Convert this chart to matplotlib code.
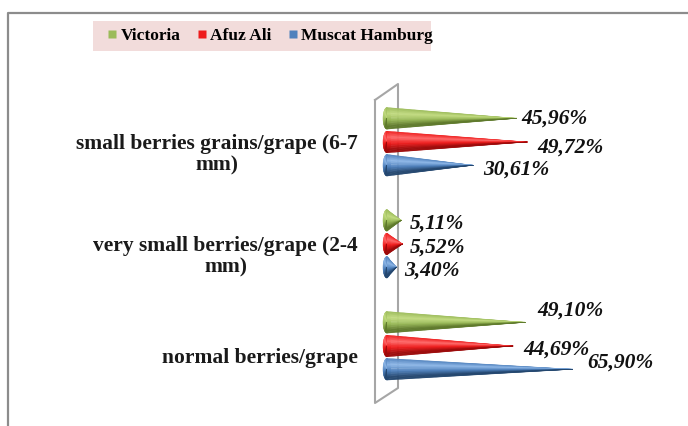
import matplotlib
matplotlib.use("Agg")
import matplotlib.pyplot as plt
import matplotlib.transforms as mtransforms
from matplotlib.patches import Polygon, Ellipse, Rectangle
from matplotlib.lines import Line2D
from matplotlib.colors import LinearSegmentedColormap
import numpy as np

# categories, top to bottom
categories = ["small berries grains/grape (6-7\nmm)",
              "very small berries/grape (2-4\nmm)",
              "normal berries/grape"]
series_names = ["Victoria", "Afuz Ali", "Muscat Hamburg"]
victoria = [45.96, 5.11, 49.10]
afuz_ali = [49.72, 5.52, 44.69]
muscat_hamburg = [30.61, 3.40, 65.90]
values = [victoria, afuz_ali, muscat_hamburg]

# light / mid / dark shades for each series
shades = [("#c3dc82", "#9bbb59", "#5f7a2c"),
          ("#ff6a6a", "#ee1c1c", "#9c0a0a"),
          ("#8fb8e8", "#4f81bd", "#24476f")]

# label nudges in pixels (dx, dy down), per series then category
label_nudge = [[(5, 0), (8, 3), (12, -12)],
               [(10, 6), (7, 4), (10, 4)],
               [(10, 4), (8, 3), (14, -7)]]

W, H = 688, 426
fig = plt.figure(figsize=(W / 100, H / 100), dpi=100)
fig.patch.set_facecolor("white")

px_per_unit = 2.82
ax = fig.add_axes([387 / W, 1 - 410 / H, 301 / W, 340 / H])
ax.set_xlim(0, 301 / px_per_unit)
ax.set_ylim((410 - 142) / 102, (70 - 142) / 102)
ax.set_facecolor("none")
for sp in ax.spines.values():
    sp.set_visible(False)
ax.set_xticks([])

offsets = [-0.232, 0.0, 0.228]
radius = 0.106
base_w = 8 / px_per_unit


def draw_cone(ax, length, yc, cols):
    cmap = LinearSegmentedColormap.from_list("c", [cols[1], cols[0], cols[1], cols[2]])
    n = 30
    ts = np.linspace(0, 1, n + 1)
    ax.add_patch(Ellipse((0, yc), base_w, 2 * radius, facecolor=cols[1],
                         edgecolor="none", clip_on=False, zorder=2))
    for k in range(n):
        t0, t1 = ts[k], ts[k + 1]
        c = cmap(min(1.0, 0.5 * (t0 + t1) * 1.15))
        ya = yc - radius + 2 * radius * t0
        yb = yc - radius + 2 * radius * t1
        ax.add_patch(Polygon([(0, ya), (0, yb), (length, yc)], closed=True,
                             facecolor=c, edgecolor=c, linewidth=0.3, zorder=3))
    # shading on the rounded back end
    for k in range(n):
        t0, t1 = ts[k], ts[k + 1]
        c = cmap(min(1.0, 0.5 * (t0 + t1) * 1.15))
        th = np.linspace(np.pi / 2 + np.pi * t0, np.pi / 2 + np.pi * t1, 4)
        xs = np.concatenate([[0], base_w / 2 * np.cos(th)])
        ys = np.concatenate([[yc], yc - radius * np.sin(th)])
        ax.add_patch(Polygon(np.column_stack([xs, ys]), closed=True, facecolor=c,
                             edgecolor=c, linewidth=0.3, zorder=2.5, clip_on=False))


for s, vals in enumerate(values):
    for i, v in enumerate(vals):
        yc = i + offsets[s]
        draw_cone(ax, v, yc, shades[s])
        dx, dy = label_nudge[s][i]
        ax.annotate(f"{v:.2f}%".replace(".", ","), xy=(v, yc),
                    xytext=(dx * 0.72, -dy * 0.72), textcoords="offset points",
                    ha="left", va="center", fontsize=15.5, fontweight="bold",
                    fontstyle="italic", family="Liberation Serif", color="#111111",
                    zorder=5)

# category axis wall
wall_x = [-12 / px_per_unit, 11 / px_per_unit]
ax.add_line(Line2D([wall_x[0], wall_x[1], wall_x[1], wall_x[0], wall_x[0]],
                   [(100 - 142) / 102, (84 - 142) / 102, (388 - 142) / 102,
                    (403 - 142) / 102, (100 - 142) / 102],
                   color="#a6a6a6", linewidth=1.5, clip_on=False, zorder=1))

ax.set_yticks(range(len(categories)))
ax.set_yticklabels(categories, fontsize=15.5, fontweight="bold",
                   family="Liberation Serif", color="#1a1a1a",
                   multialignment="center", linespacing=1.07)
ax.tick_params(axis="y", length=0, pad=21)
shift = mtransforms.ScaledTranslation(0, -10 / 100, fig.dpi_scale_trans)
for lab in ax.get_yticklabels():
    lab.set_transform(lab.get_transform() + shift)

# outer frame, left and top edges
fig.add_artist(Line2D([8 / W, 8 / W, 1.0], [0.0, 1 - 13 / H, 1 - 13 / H],
                      transform=fig.transFigure, color="#8c8c8c", linewidth=1.6))

# legend band
fig.add_artist(Rectangle((93 / W, 1 - 51 / H), 338 / W, 30 / H,
                         transform=fig.transFigure, facecolor="#f2dcdb",
                         edgecolor="none", zorder=0))
handles = [Line2D([], [], marker="s", linestyle="none", markersize=6,
                  markerfacecolor=shades[s][1], markeredgecolor="none")
           for s in range(3)]
leg = fig.legend(handles, series_names, loc="center", ncol=3,
                 bbox_to_anchor=(270 / W, 1 - 36 / H), frameon=False,
                 handlelength=0.6, handletextpad=0.2,
                 columnspacing=0.9, borderpad=0.2,
                 prop={"family": "Liberation Serif", "weight": "bold", "size": 12.5})

fig.savefig("out.png", dpi=100)
